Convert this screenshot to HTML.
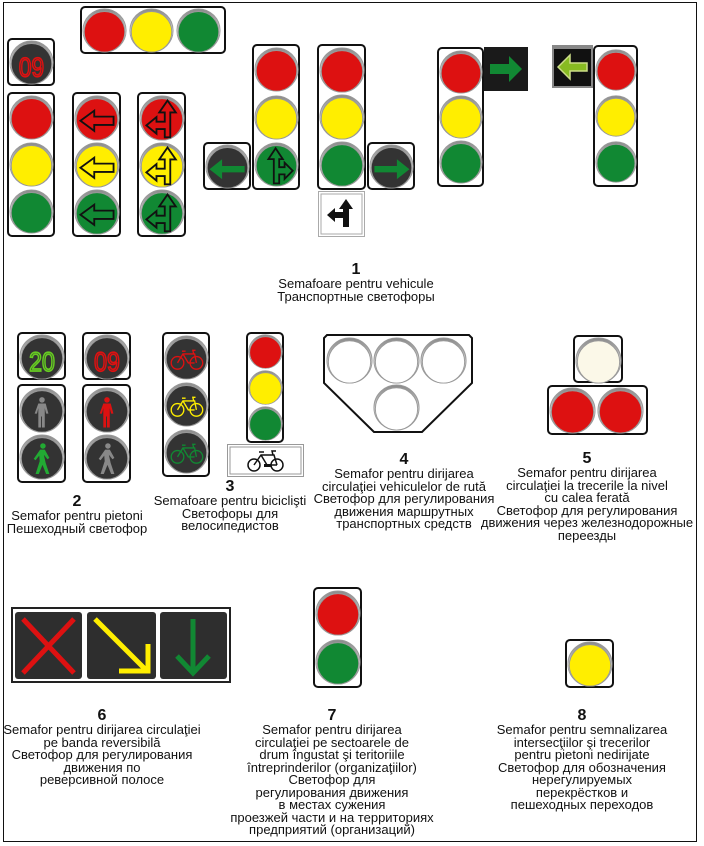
<!DOCTYPE html>
<html><head><meta charset="utf-8">
<style>
html,body{margin:0;padding:0;background:#fff}
#c{position:relative;width:704px;height:846px;overflow:hidden;background:#fff}
.frame{position:absolute;left:3px;top:2px;width:694px;height:840px;border:1.5px solid #111;box-sizing:border-box}
.h{position:absolute;border:2px solid #111;border-radius:5px;box-sizing:border-box;background:#fff}
.t{position:absolute;font-family:"Liberation Sans Narrow","Liberation Sans",sans-serif;font-size:13px;line-height:12.5px;text-align:center;color:#111;white-space:nowrap;transform:translateX(-50%)}
.t b{display:block;font-size:16px;line-height:16px;font-weight:bold}
svg.a{position:absolute}
</style></head><body>
<div id="c">
<div class="frame"></div>

<div class="t" style="left:356px;top:262px"><b>1</b>Semafoare pentru vehicule<br>Транспортные светофоры</div>
<div class="t" style="left:77px;top:494px"><b>2</b>Semafor pentru pietoni<br>Пешеходный светофор</div>
<div class="t" style="left:230px;top:479px"><b>3</b>Semafoare pentru biciclişti<br>Светофоры для<br>велосипедистов</div>
<div class="t" style="left:404px;top:452px"><b>4</b>Semafor pentru dirijarea<br>circulaţiei vehiculelor de rută<br>Светофор для регулирования<br>движения маршрутных<br>транспортных средств</div>
<div class="t" style="left:587px;top:451px"><b>5</b>Semafor pentru dirijarea<br>circulaţiei la trecerile la nivel<br>cu calea ferată<br>Светофор для регулирования<br>движения через железнодорожные<br>переезды</div>
<div class="t" style="left:102px;top:708px"><b>6</b>Semafor pentru dirijarea circulaţiei<br>pe banda reversibilă<br>Светофор для регулирования<br>движения по<br>реверсивной полосе</div>
<div class="t" style="left:332px;top:708px"><b>7</b>Semafor pentru dirijarea<br>circulaţiei pe sectoarele de<br>drum îngustat şi teritoriile<br>întreprinderilor (organizaţiilor)<br>Светофор для<br>регулирования движения<br>в местах сужения<br>проезжей части и на территориях<br>предприятий (организаций)</div>
<div class="t" style="left:582px;top:708px"><b>8</b>Semafor pentru semnalizarea<br>intersecţiilor şi trecerilor<br>pentru pietoni nedirijate<br>Светофор для обозначения<br>нерегулируемых<br>перекрёстков и<br>пешеходных переходов</div>
</div>
<script>
var C=document.getElementById('c');
var R='#dd1111',Y='#ffee00',G='#118833',D='#333',W='#fff',CR='#fbf8e8';
function add(h){C.insertAdjacentHTML('beforeend',h);}
function H(x1,y1,x2,y2){add('<div class="h" style="left:'+x1+'px;top:'+y1+'px;width:'+(x2-x1)+'px;height:'+(y2-y1)+'px"></div>');}
var gid=0;
function L(x,y,d,col,inner){
 gid++;
 var s='<svg class="a" style="left:'+x+'px;top:'+y+'px" width="'+d+'" height="'+d+'" viewBox="0 0 100 100">'+
 '<defs><linearGradient id="g'+gid+'" x1="0" y1="0" x2="0" y2="1"><stop offset="0" stop-color="#8a8a8a"/><stop offset="0.3" stop-color="#b0b0b0"/><stop offset="0.6" stop-color="#e8e8e8"/><stop offset="1" stop-color="#fff"/></linearGradient></defs>'+
 '<circle cx="50" cy="50" r="48" fill="url(#g'+gid+')" stroke="#999" stroke-width="2"/>'+
 '<circle cx="50" cy="53" r="45" fill="'+col+'" stroke="#999" stroke-width="2"/>'+(inner||'')+'</svg>';
 add(s);
}
function col(x,y1,x2,y2,cols,inners){H(x,y1,x2,y2);var n=cols.length,w=x2-x,d=w-3,st=(y2-y1-4)/n;for(var i=0;i<n;i++)L(x+1.5,y1+2+i*st+(st-d)/2,d,cols[i],inners?inners[i]:'');}
var LA='<polygon points="14,56 44,34 44,47 86,47 86,65 44,65 44,78" fill="none" stroke="#111" stroke-width="4"/>';
var CA='<polygon points="62,12 80,38 68,38 68,92 56,92 56,74 38,74 38,84 16,66 38,48 38,58 56,58 56,38 44,38" fill="none" stroke="#111" stroke-width="4"/>';
var CA2='<polygon points="48,14 64,38 56,38 56,56 68,56 68,46 86,64 68,82 68,72 56,72 56,92 44,92 44,38 32,38" fill="none" stroke="#111" stroke-width="4"/>';
var GL='<polygon points="10,56 38,34 38,49 88,49 88,63 38,63 38,78" fill="'+G+'"/>';
var GR='<polygon points="90,56 62,34 62,49 12,49 12,63 62,63 62,78" fill="'+G+'"/>';
function txt(s,c){return '<text x="50" y="80" text-anchor="middle" font-family="Liberation Sans Narrow,Liberation Sans,sans-serif" font-size="56" transform="translate(50 0) scale(0.9 1.05) translate(-50 -3)" fill="none" stroke="'+c+'" stroke-width="3.5">'+s+'</text>';}
function ped(c,walk){ if(!walk) return '<g fill="'+c+'"><circle cx="50" cy="28" r="6"/><path d="M42 36h16l6 22h-5l-3-12v42h-6v-24h-2v24h-6v-42l-3 12h-5z"/></g>';
 return '<g fill="'+c+'"><circle cx="52" cy="26" r="6"/><path d="M46 34h10l10 18-4 3-8-10 4 18 8 24h-7l-8-20-8 20h-7l9-28 -1-12-8 10-4-3z"/></g>';}
function bike(c){return '<g fill="none" stroke="'+c+'" stroke-width="3"><circle cx="30" cy="62" r="14"/><circle cx="72" cy="62" r="14"/><path d="M30 62l12-20h26l4 20M42 42l12 20h14M40 36h8M66 42l-2-8h6"/></g>';}

/* group 1 */
H(80,6,226,54);L(82,8,45,R);L(129,8,45,Y);L(176,8,45,G);
H(7,38,55,86);L(8.5,39.5,45,D,txt('09',R));
col(7,92,55,237,[R,Y,G]);
col(72,92,121,237,[R,Y,G],[LA,LA,LA]);
col(137,92,186,237,[R,Y,G],[CA,CA,CA]);
H(203,142,251,190);L(204.5,143.5,45,D,GL);
col(252,44,300,190,[R,Y,G],['','',CA2]);
col(317,44,366,190,[R,Y,G]);
H(367,142,415,190);L(368.5,143.5,45,D,GR);
add('<svg class="a" style="left:318px;top:191px" width="47" height="46" viewBox="0 0 47 46"><rect x="0.5" y="0.5" width="46" height="45" fill="#fff" stroke="#aaa"/><rect x="3" y="3" width="41" height="40" fill="none" stroke="#aaa"/><path d="M28 8l7 10h-4v18h-6v-9h-8v4l-8-7 8-7v4h8v-3h-4z" fill="#111"/></svg>');
col(437,47,484,187,[R,Y,G]);
add('<svg class="a" style="left:484px;top:47px" width="44" height="44" viewBox="0 0 44 44"><rect width="44" height="44" fill="#1a1a1a"/><polygon points="38,22 25,9 25,17 6,17 6,27 25,27 25,35" fill="'+G+'"/></svg>');
add('<svg class="a" style="left:552px;top:45px" width="41" height="43" viewBox="0 0 41 43"><rect width="41" height="43" fill="#888"/><rect x="2" y="4" width="37" height="37" fill="#111"/><polygon points="6,22 18,10 18,18 35,18 35,26 18,26 18,34" fill="#88bb22" stroke="#ccdd88" stroke-width="1.5"/></svg>');
col(593,45,638,187,[R,Y,G]);

/* group 2 */
H(17,332,66,380);L(18.5,333.5,46,D,txt('20','#66cc22'));
col(17,384,66,483,[D,D],[ped('#888',0),ped('#22aa33',1)]);
H(82,332,131,380);L(83.5,333.5,46,D,txt('09',R));
col(82,384,131,483,[D,D],[ped(R,0),ped('#888',1)]);
/* group 3 */
col(162,332,210,477,[D,D,D],[bike(R),bike(Y),bike(G)]);
col(246,332,284,443,[R,Y,G]);
add('<svg class="a" style="left:227px;top:444px" width="77" height="33" viewBox="0 0 77 33"><rect x="0.5" y="0.5" width="76" height="32" fill="#fff" stroke="#999"/><rect x="3" y="3" width="71" height="27" fill="none" stroke="#999"/><g fill="none" stroke="#111" stroke-width="1.5"><circle cx="27" cy="21" r="6"/><circle cx="50" cy="21" r="6"/><path d="M27 21l7-10h13l3 10M34 11l6 10h10M32 8h5M46 11l-1-4h4"/></g><rect x="37" y="20" width="7" height="3" fill="#111"/></svg>');
/* group 4 */
add('<svg class="a" style="left:322px;top:333px" width="152" height="102" viewBox="0 0 152 102"><path d="M5 2H147L150 5V50L100 99H52L2 50V5Z" fill="#fff" stroke="#111" stroke-width="2"/></svg>');
L(326,337,47,W);L(373,337,47,W);L(420,337,47,W);L(373,384,47,W);
/* group 5 */
H(573,335,623,383);L(574.5,336.5,47,CR);
H(547,385,648,435);L(549,387,47,R);L(597,387,47,R);
/* group 6 */
add('<svg class="a" style="left:11px;top:607px" width="220" height="76" viewBox="0 0 220 76"><rect x="1" y="1" width="218" height="74" fill="#fff" stroke="#222" stroke-width="2"/><rect x="4" y="5" width="67" height="67" rx="3" fill="#2e2e2e"/><rect x="76" y="5" width="69" height="67" rx="3" fill="#2e2e2e"/><rect x="149" y="5" width="67" height="67" rx="3" fill="#2e2e2e"/><g stroke="#dd1111" stroke-width="5"><line x1="12" y1="12" x2="63" y2="66"/><line x1="63" y1="12" x2="12" y2="66"/></g><g stroke="#ffee00" stroke-width="5" fill="none"><line x1="84" y1="12" x2="136" y2="64"/><path d="M108 64H137V37"/></g><g stroke="#118833" stroke-width="5" fill="none"><line x1="182" y1="12" x2="182" y2="66"/><path d="M166 49L182 66L198 49"/></g></svg>');
/* group 7 */
col(313,587,362,688,[R,G]);
/* group 8 */
H(565,639,614,688);L(566.5,640.5,46,Y);
</script>
</body></html>
